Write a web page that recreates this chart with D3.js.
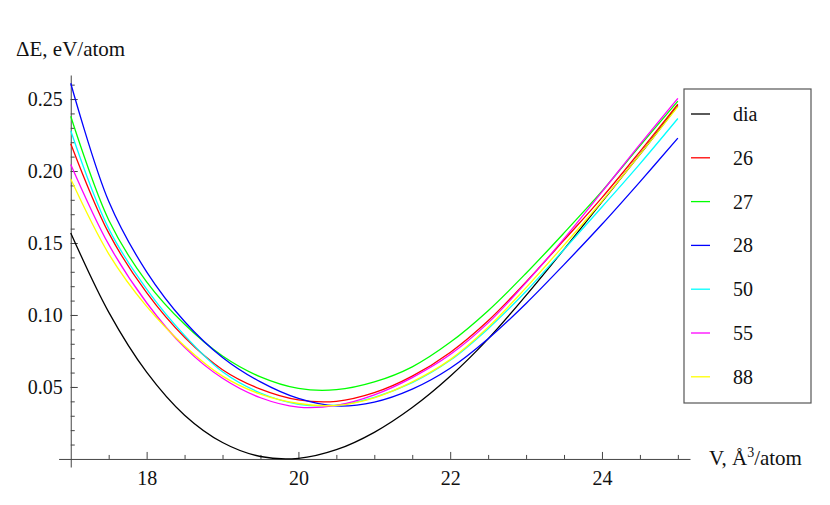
<!DOCTYPE html>
<html>
<head>
<meta charset="utf-8">
<script src="https://cdn.jsdelivr.net/npm/d3@7"></script>
<style>
  body { margin: 0; background: #fff; }
  svg { font-family: "Liberation Serif", "Times New Roman", serif; }
</style>
</head>
<body>
<svg id="chart" width="830" height="505"></svg>
<script>
// volumes, A^3/atom
var volumes = [17, 17.5, 18, 18.5, 19, 19.5, 20, 20.5, 21, 21.5, 22, 22.5, 23, 23.5, 24, 24.5, 25];

// energies, eV/atom
var dia = [0.157, 0.102, 0.0603, 0.0304, 0.0114, 0.0017, 0.0004, 0.0064, 0.0185, 0.0357, 0.0574, 0.0834, 0.1136, 0.1456, 0.1786, 0.2115, 0.2455];
var s26 = [0.219, 0.157, 0.1155, 0.0845, 0.062, 0.0485, 0.041, 0.040, 0.046, 0.0575, 0.074, 0.096, 0.123, 0.152, 0.1815, 0.2135, 0.2465];
var s27 = [0.238, 0.166, 0.123, 0.0935, 0.0715, 0.057, 0.049, 0.0481, 0.0535, 0.064, 0.081, 0.103, 0.129, 0.157, 0.186, 0.2175, 0.2485];
var s28 = [0.261, 0.179, 0.130, 0.0955, 0.0705, 0.0535, 0.042, 0.0368, 0.0395, 0.0485, 0.063, 0.0835, 0.108, 0.135, 0.163, 0.1925, 0.2228];
var s50 = [0.228, 0.160, 0.118, 0.0858, 0.0605, 0.0458, 0.038, 0.0373, 0.0428, 0.053, 0.0685, 0.0905, 0.1165, 0.1455, 0.175, 0.205, 0.2365];
var s55 = [0.2046, 0.149, 0.1085, 0.0775, 0.056, 0.0425, 0.036, 0.0372, 0.0445, 0.0565, 0.0725, 0.0945, 0.1225, 0.153, 0.1855, 0.2185, 0.2505];
var s88 = [0.1944, 0.1425, 0.106, 0.0785, 0.0575, 0.045, 0.0385, 0.0372, 0.0425, 0.0535, 0.069, 0.0915, 0.119, 0.1485, 0.179, 0.2115, 0.2448];

var names = ["dia", "26", "27", "28", "50", "55", "88"];
var values = [dia, s26, s27, s28, s50, s55, s88];
var colors = ["#000000", "#ff0000", "#00ff00", "#0000ff", "#00ffff", "#ff00ff", "#ffff00"];

var xMajor = [18, 20, 22, 24];
var yMajor = [0.05, 0.10, 0.15, 0.20, 0.25];

var svg = d3.select("#chart");

// plot range with a little padding, like the original
var x = d3.scaleLinear().domain([16.84, 25.16]).range([58.6, 690]);
var y = d3.scaleLinear().domain([-0.0056, 0.2667]).range([467, 75]);

var xMinor = d3.range(34, 51).map(function(d) { return d / 2; })
    .filter(function(d) { return xMajor.indexOf(d) < 0 && d !== 17; });
var yMinor = d3.range(1, 27).map(function(d) { return d / 100; })
    .filter(function(d) { return d % 5 !== 0; });

var axisColor = "#444";

// x axis
var gx = svg.append("g").attr("transform", "translate(0," + y(0) + ")");
gx.call(d3.axisBottom(x).tickValues(xMajor).tickSizeInner(-7).tickSizeOuter(0)
    .tickPadding(12).tickFormat(d3.format("d")));
gx.append("g").call(d3.axisBottom(x).tickValues(xMinor).tickSizeInner(-4).tickSizeOuter(0)
    .tickFormat(""))
    .select(".domain").remove();

// y axis
var gy = svg.append("g").attr("transform", "translate(" + x(17) + ",0)");
gy.call(d3.axisLeft(y).tickValues(yMajor).tickSizeInner(-7).tickSizeOuter(0)
    .tickPadding(8).tickFormat(d3.format(".2f")));
gy.append("g").call(d3.axisLeft(y).tickValues(yMinor).tickSizeInner(-4).tickSizeOuter(0)
    .tickFormat(""))
    .select(".domain").remove();

svg.selectAll(".domain, .tick line").attr("stroke", axisColor).attr("stroke-width", 1);
svg.selectAll(".tick text").attr("font-size", "20px").attr("fill", "#111")
    .attr("font-family", "Liberation Serif, serif");

// axis labels
svg.append("text")
    .attr("x", 16).attr("y", 56)
    .attr("font-size", "21px").attr("fill", "#111")
    .text("\u0394E, eV/atom");

var xl = svg.append("text")
    .attr("x", 709).attr("y", 465)
    .attr("font-size", "21px").attr("fill", "#111");
xl.append("tspan").text("V, \u00c5");
xl.append("tspan").attr("dy", -8).attr("font-size", "14px").text("3");
xl.append("tspan").attr("dy", 8).text("/atom");

// curves
var line = d3.line()
    .x(function(d) { return x(d[0]); })
    .y(function(d) { return y(d[1]); })
    .curve(d3.curveCatmullRom.alpha(0.5));

svg.append("g").selectAll("path")
    .data(values)
    .enter().append("path")
    .attr("d", function(d) {
        return line(d.map(function(v, i) { return [volumes[i], v]; }));
    })
    .attr("fill", "none")
    .attr("stroke", function(d, i) { return colors[i]; })
    .attr("stroke-width", 1.3);

// legend
var legend = svg.append("g");
legend.append("rect")
    .attr("x", 684).attr("y", 89)
    .attr("width", 127).attr("height", 314)
    .attr("fill", "#fff")
    .attr("stroke", "#555")
    .attr("stroke-width", 1.2);

var items = legend.selectAll("g.item")
    .data(names)
    .enter().append("g")
    .attr("class", "item")
    .attr("transform", function(d, i) { return "translate(0," + (114 + i * 43.8) + ")"; });

items.append("line")
    .attr("x1", 691).attr("x2", 710)
    .attr("y1", 0).attr("y2", 0)
    .attr("stroke", function(d, i) { return colors[i]; })
    .attr("stroke-width", 1.3);

items.append("text")
    .attr("x", 733).attr("y", 0)
    .attr("dy", "0.35em")
    .attr("font-size", "20px").attr("fill", "#111")
    .text(function(d) { return d; });
</script>
</body>
</html>
